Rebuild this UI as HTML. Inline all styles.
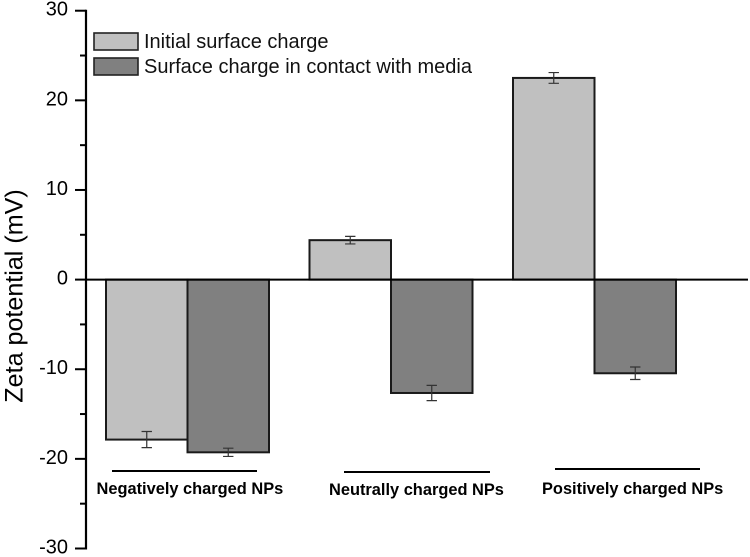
<!DOCTYPE html>
<html>
<head>
<meta charset="utf-8">
<style>
html,body{margin:0;padding:0;background:#fff;width:750px;height:557px;overflow:hidden}
svg{display:block;font-family:"Liberation Sans",Arial,sans-serif}
</style>
</head>
<body>
<svg id="chart" width="750" height="557" viewBox="0 0 750 557" xmlns="http://www.w3.org/2000/svg"></svg>
<script>
const categories = ['Negatively charged NPs', 'Neutrally charged NPs', 'Positively charged NPs'];
const seriesNames = ['Initial surface charge', 'Surface charge in contact with media'];
const initialValues = [-17.85, 4.4, 22.5];
const mediaValues = [-19.27, -12.65, -10.45];
const initialErrors = [0.9, 0.42, 0.6];
const mediaErrors = [0.46, 0.85, 0.7];
const yTicks = [30, 20, 10, 0, -10, -20, -30];
const yMinorTicks = [25, 15, 5, -5, -15, -25];

const NS = 'http://www.w3.org/2000/svg';
const svg = document.getElementById('chart');
const yScale = v => 279.6 - v * 8.963;
const barWidth = 81.5;
const groupStart = i => 106 + i * 203.5;

function make(tag, attrs, text) {
  const el = document.createElementNS(NS, tag);
  for (const k in attrs) el.setAttribute(k, attrs[k]);
  if (text !== undefined) el.textContent = text;
  svg.appendChild(el);
  return el;
}

const colors = ['#c0c0c0', '#808080'];
const valueSets = [initialValues, mediaValues];
const errorSets = [initialErrors, mediaErrors];
const seriesKeys = ['initial', 'media'];

categories.forEach((cat, i) => {
  valueSets.forEach((vals, s) => {
    const x = groupStart(i) + s * barWidth;
    const y0 = yScale(0);
    const y1 = yScale(vals[i]);
    const bar = make('rect', {
      x: x, y: Math.min(y0, y1), width: barWidth, height: Math.abs(y1 - y0),
      fill: colors[s], stroke: '#1a1a1a', 'stroke-width': 2
    });
    
    
  });
});

categories.forEach((cat, i) => {
  valueSets.forEach((vals, s) => {
    const cx = groupStart(i) + s * barWidth + barWidth / 2;
    const hi = yScale(vals[i] + errorSets[s][i]);
    const lo = yScale(vals[i] - errorSets[s][i]);
    const err = make('path', {
      d: 'M' + (cx - 5.2) + ' ' + hi + 'H' + (cx + 5.2) + 'M' + cx + ' ' + hi + 'V' + lo + 'M' + (cx - 5.2) + ' ' + lo + 'H' + (cx + 5.2),
      fill: 'none', stroke: '#333', 'stroke-width': 1.2
    });
    
    
  });
});

const zeroLine = make('line', {x1: 86, x2: 748, y1: yScale(0), y2: yScale(0), stroke: '#000', 'stroke-width': 2});



const yAxis = make('line', {x1: 86, x2: 86, y1: yScale(30) - 1, y2: yScale(-30) + 1, stroke: '#000', 'stroke-width': 2.2});



yTicks.forEach(t => {
  const tick = make('line', {x1: 75, x2: 86, y1: yScale(t), y2: yScale(t), stroke: '#000', 'stroke-width': 2});
  
  
  const label = make('text', {x: 68, y: yScale(t) - 1, 'text-anchor': 'end', 'dominant-baseline': 'central', 'font-size': 20, fill: '#000'}, String(t));
  
  
});
yMinorTicks.forEach(t => {
  const tick = make('line', {x1: 80, x2: 86, y1: yScale(t), y2: yScale(t), stroke: '#000', 'stroke-width': 2});
  
  
});

const yTitle = make('text', {transform: 'translate(22.5,296) rotate(-90)', 'text-anchor': 'middle', 'font-size': 25.1, fill: '#000'}, 'Zeta potential (mV)');



const legendY = [33, 58];
seriesNames.forEach((name, s) => {
  const swatch = make('rect', {x: 94, y: legendY[s], width: 44, height: 17, fill: colors[s], stroke: '#222', 'stroke-width': 1.6});
  
  
  const text = make('text', {x: 144, y: legendY[s] + 15, 'font-size': 20, fill: '#111'}, name);
  
  
});

const groupLines = [[112, 257, 471], [344, 490, 472], [555, 700, 469]];
const groupLabels = [[96.5, 494], [329, 495], [542, 494]];
categories.forEach((cat, i) => {
  const rule = make('line', {x1: groupLines[i][0], x2: groupLines[i][1], y1: groupLines[i][2], y2: groupLines[i][2], stroke: '#000', 'stroke-width': 2});
  
  
  const label = make('text', {x: groupLabels[i][0], y: groupLabels[i][1], 'font-size': 16.4, 'font-weight': 'bold', fill: '#000'}, cat);
  
  
});
</script>
</body>
</html>
